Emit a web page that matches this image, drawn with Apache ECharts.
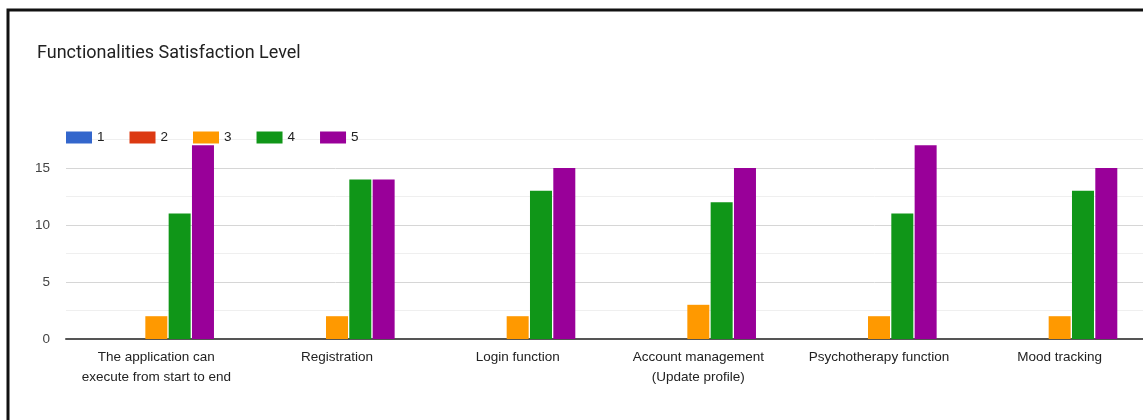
<!DOCTYPE html>
<html>
  <head>
    <meta charset="utf-8" />
    <title>Functionalities Satisfaction Level</title>
    <script src="https://cdn.jsdelivr.net/npm/echarts@6/dist/echarts.min.js"></script>
    <style>
      html, body { margin: 0; padding: 0; background: #fff; }
    </style>
  </head>
  <body>
    <div id="main" style="width: 1143px; height: 420px"></div>
    <script>
      var categories = [
        "The application can\nexecute from start to end",
        "Registration",
        "Login function",
        "Account management\n(Update profile)",
        "Psychotherapy function",
        "Mood tracking",
      ];
      var levels = ["1", "2", "3", "4", "5"];
      var colors = ["#3366cc", "#dc3912", "#ff9900", "#109618", "#990099"];
      // one array per rating level, one value per functionality
      var level1 = [0, 0, 0, 0, 0, 0];
      var level2 = [0, 0, 0, 0, 0, 0];
      var level3 = [2, 2, 2, 3, 2, 2];
      var level4 = [11, 14, 13, 12, 11, 13];
      var level5 = [17, 14, 15, 15, 17, 15];
      var values = [level1, level2, level3, level4, level5];

      var series = levels.map(function (name, i) {
        return {
          name: name,
          type: "bar",
          data: values[i],
          barWidth: 22,
          barGap: "6%",
          itemStyle: { color: colors[i] },
          emphasis: { disabled: true },
        };
      });

      var chart = echarts.init(document.getElementById("main"));
      chart.setOption({
        animation: false,
        textStyle: { fontFamily: "Liberation Sans, Arial, sans-serif" },
        title: {
          text: "Functionalities Satisfaction Level",
          left: 32,
          top: 39,
          textStyle: { fontFamily: "Roboto", fontSize: 18, fontWeight: "normal", color: "#212121" },
        },
        legend: {
          left: 61,
          top: 125.5,
          itemWidth: 26,
          itemHeight: 12,
          itemGap: 25,
          icon: "rect",
          textStyle: { fontSize: 13.5, color: "#222" },
          data: levels,
        },
        graphic: [
          {
            type: "polyline",
            shape: { points: [[8, 420], [8, 10], [1143, 10]] },
            style: { stroke: "#111", lineWidth: 3, fill: null },
          },
        ],
        grid: {
          left: 66,
          width: 1084,
          top: 139.5,
          bottom: 81,
          containLabel: false,
          outerBoundsMode: "none",
        },
        xAxis: {
          type: "category",
          data: categories,
          axisTick: { show: false },
          axisLine: { lineStyle: { color: "#555", width: 2 } },
          axisLabel: { color: "#222", fontSize: 13.5, lineHeight: 20, margin: 8, interval: 0 },
        },
        yAxis: {
          type: "value",
          min: 0,
          max: 17.5,
          interval: 2.5,
          axisLine: { show: false },
          axisTick: { show: false },
          axisLabel: {
            color: "#444",
            fontSize: 13.5,
            margin: 16,
            formatter: function (v) { return v % 5 === 0 ? String(v) : ""; },
          },
          splitLine: { lineStyle: { color: ["#d6d6d6", "#efefef"], width: 1 } },
        },
        series: series,
      });
    </script>
  </body>
</html>
